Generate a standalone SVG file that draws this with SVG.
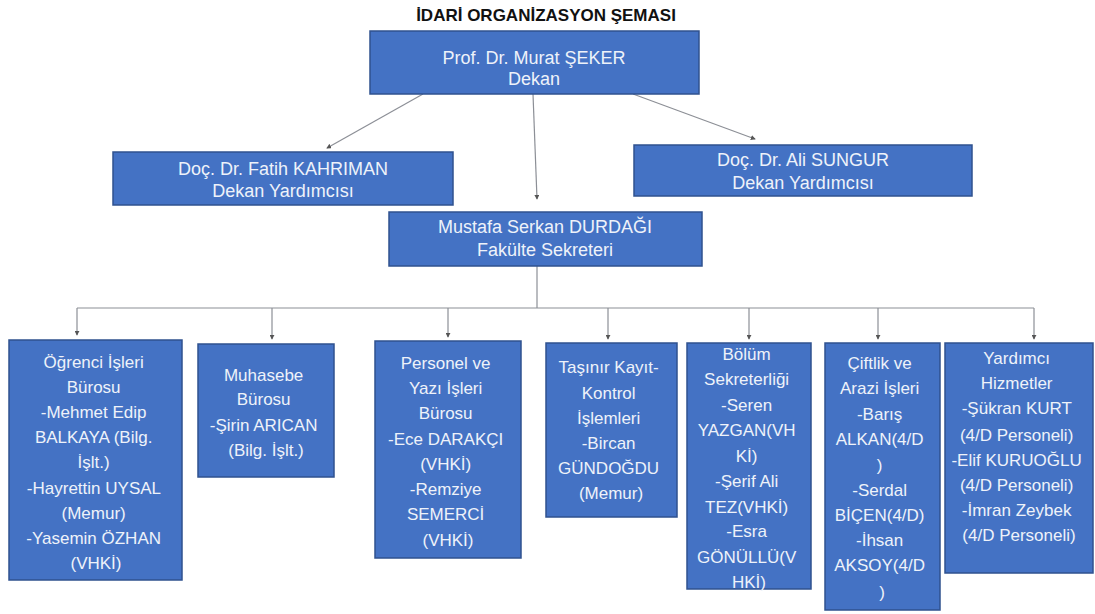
<svg xmlns="http://www.w3.org/2000/svg" width="1095" height="614" viewBox="0 0 1095 614">
<defs>
<marker id="ah" viewBox="0 0 6 6" refX="5" refY="3" markerWidth="5" markerHeight="5" orient="auto" markerUnits="userSpaceOnUse">
<path d="M0,0 L6,3 L0,6 z" fill="#555"/>
</marker>
<style>
.box{fill:#4472C4;stroke:#2F528F;stroke-width:1.5}
.t{font-family:"Liberation Sans",Arial,sans-serif;font-size:17px;fill:#EEF2FA;text-anchor:middle}
.tl{font-size:18px}
.title{font-family:"Liberation Sans",Arial,sans-serif;font-size:17px;font-weight:bold;fill:#111;text-anchor:middle}
.c{fill:none;stroke:#8c8f96;stroke-width:1.2}
.ca{fill:none;stroke:#8c8f96;stroke-width:1.2;marker-end:url(#ah)}
</style>
</defs>
<rect width="1095" height="614" fill="#fff"/>
<text class="title" x="546" y="21">İDARİ ORGANİZASYON ŞEMASI</text>

<g id="connectors">
<line class="ca" x1="423" y1="94" x2="327" y2="148"/>
<line class="ca" x1="533" y1="94" x2="537" y2="199"/>
<line class="ca" x1="633" y1="94" x2="755" y2="139"/>
<line class="c" x1="537" y1="266" x2="537" y2="308"/>
<line class="c" x1="77" y1="308" x2="1034" y2="308"/>
<line class="ca" x1="77" y1="308" x2="77" y2="335"/>
<line class="ca" x1="272" y1="308" x2="272" y2="339"/>
<line class="ca" x1="448" y1="308" x2="448" y2="337"/>
<line class="ca" x1="608" y1="308" x2="608" y2="339"/>
<line class="ca" x1="749" y1="308" x2="749" y2="339"/>
<line class="ca" x1="878" y1="308" x2="878" y2="339"/>
<line class="ca" x1="1034" y1="308" x2="1034" y2="339"/>
</g>

<g id="dekan">
<rect class="box" x="370" y="31" width="329" height="63"/>
<text class="t tl" x="534" y="64">Prof. Dr. Murat ŞEKER</text>
<text class="t tl" x="534" y="85">Dekan</text>
</g>

<g id="fatih">
<rect class="box" x="113" y="152" width="340" height="53"/>
<text class="t tl" x="283" y="175">Doç. Dr. Fatih KAHRIMAN</text>
<text class="t tl" x="283" y="197">Dekan Yardımcısı</text>
</g>

<g id="sungur">
<rect class="box" x="634" y="145" width="338" height="51"/>
<text class="t tl" x="803" y="166">Doç. Dr. Ali SUNGUR</text>
<text class="t tl" x="803" y="189">Dekan Yardımcısı</text>
</g>

<g id="sekreter">
<rect class="box" x="389" y="212" width="313" height="54"/>
<text class="t tl" x="545" y="233">Mustafa Serkan DURDAĞI</text>
<text class="t tl" x="545" y="256">Fakülte Sekreteri</text>
</g>

<g id="ogrenci">
<rect class="box" x="9" y="340" width="173" height="240"/>
<text class="t" x="96">
<tspan x="96" y="368">Öğrenci İşleri</tspan>
<tspan x="96" y="393">Bürosu</tspan>
<tspan x="96" y="418">-Mehmet Edip</tspan>
<tspan x="96" y="443">BALKAYA (Bilg.</tspan>
<tspan x="96" y="468">İşlt.)</tspan>
<tspan x="96" y="494">-Hayrettin UYSAL</tspan>
<tspan x="96" y="519">(Memur)</tspan>
<tspan x="96" y="544">-Yasemin ÖZHAN</tspan>
<tspan x="96" y="569">(VHKİ)</tspan>
</text>
</g>

<g id="muhasebe">
<rect class="box" x="198" y="344" width="136" height="133"/>
<text class="t" x="266">
<tspan x="266" y="381">Muhasebe</tspan>
<tspan x="266" y="405">Bürosu</tspan>
<tspan x="266" y="431">-Şirin ARICAN</tspan>
<tspan x="266" y="456">(Bilg. İşlt.)</tspan>
</text>
</g>

<g id="personel">
<rect class="box" x="375" y="341" width="146" height="217"/>
<text class="t" x="448">
<tspan x="448" y="369">Personel ve</tspan>
<tspan x="448" y="394">Yazı İşleri</tspan>
<tspan x="448" y="419">Bürosu</tspan>
<tspan x="448" y="445">-Ece DARAKÇI</tspan>
<tspan x="448" y="470">(VHKİ)</tspan>
<tspan x="448" y="495">-Remziye</tspan>
<tspan x="448" y="520">SEMERCİ</tspan>
<tspan x="448" y="546">(VHKİ)</tspan>
</text>
</g>

<g id="tasinir">
<rect class="box" x="546" y="343" width="131" height="174"/>
<text class="t" x="611">
<tspan x="611" y="373">Taşınır Kayıt-</tspan>
<tspan x="611" y="399">Kontrol</tspan>
<tspan x="611" y="424">İşlemleri</tspan>
<tspan x="611" y="449">-Bircan</tspan>
<tspan x="611" y="474">GÜNDOĞDU</tspan>
<tspan x="611" y="499">(Memur)</tspan>
</text>
</g>

<g id="bolum">
<rect class="box" x="687" y="343" width="124" height="246"/>
<text class="t" x="749">
<tspan x="749" y="360">Bölüm</tspan>
<tspan x="749" y="385">Sekreterliği</tspan>
<tspan x="749" y="411">-Seren</tspan>
<tspan x="749" y="436">YAZGAN(VH</tspan>
<tspan x="749" y="462">Kİ)</tspan>
<tspan x="749" y="487">-Şerif Ali</tspan>
<tspan x="749" y="513">TEZ(VHKİ)</tspan>
<tspan x="749" y="537">-Esra</tspan>
<tspan x="749" y="563">GÖNÜLLÜ(V</tspan>
<tspan x="749" y="588">HKİ)</tspan>
</text>
</g>

<g id="ciftlik">
<rect class="box" x="825" y="343" width="115" height="267"/>
<text class="t" x="882">
<tspan x="882" y="369">Çiftlik ve</tspan>
<tspan x="882" y="394">Arazi İşleri</tspan>
<tspan x="882" y="420">-Barış</tspan>
<tspan x="882" y="445">ALKAN(4/D</tspan>
<tspan x="882" y="471">)</tspan>
<tspan x="882" y="496">-Serdal</tspan>
<tspan x="882" y="521">BİÇEN(4/D)</tspan>
<tspan x="882" y="546">-İhsan</tspan>
<tspan x="882" y="571">AKSOY(4/D</tspan>
<tspan x="882" y="598">)</tspan>
</text>
</g>

<g id="yardimci">
<rect class="box" x="945" y="343" width="148" height="230"/>
<text class="t" x="1019">
<tspan x="1019" y="364">Yardımcı</tspan>
<tspan x="1019" y="389">Hizmetler</tspan>
<tspan x="1019" y="414">-Şükran KURT</tspan>
<tspan x="1019" y="441">(4/D Personeli)</tspan>
<tspan x="1019" y="466">-Elif KURUOĞLU</tspan>
<tspan x="1019" y="491">(4/D Personeli)</tspan>
<tspan x="1019" y="516">-İmran Zeybek</tspan>
<tspan x="1019" y="541">(4/D Personeli)</tspan>
</text>
</g>
</svg>
